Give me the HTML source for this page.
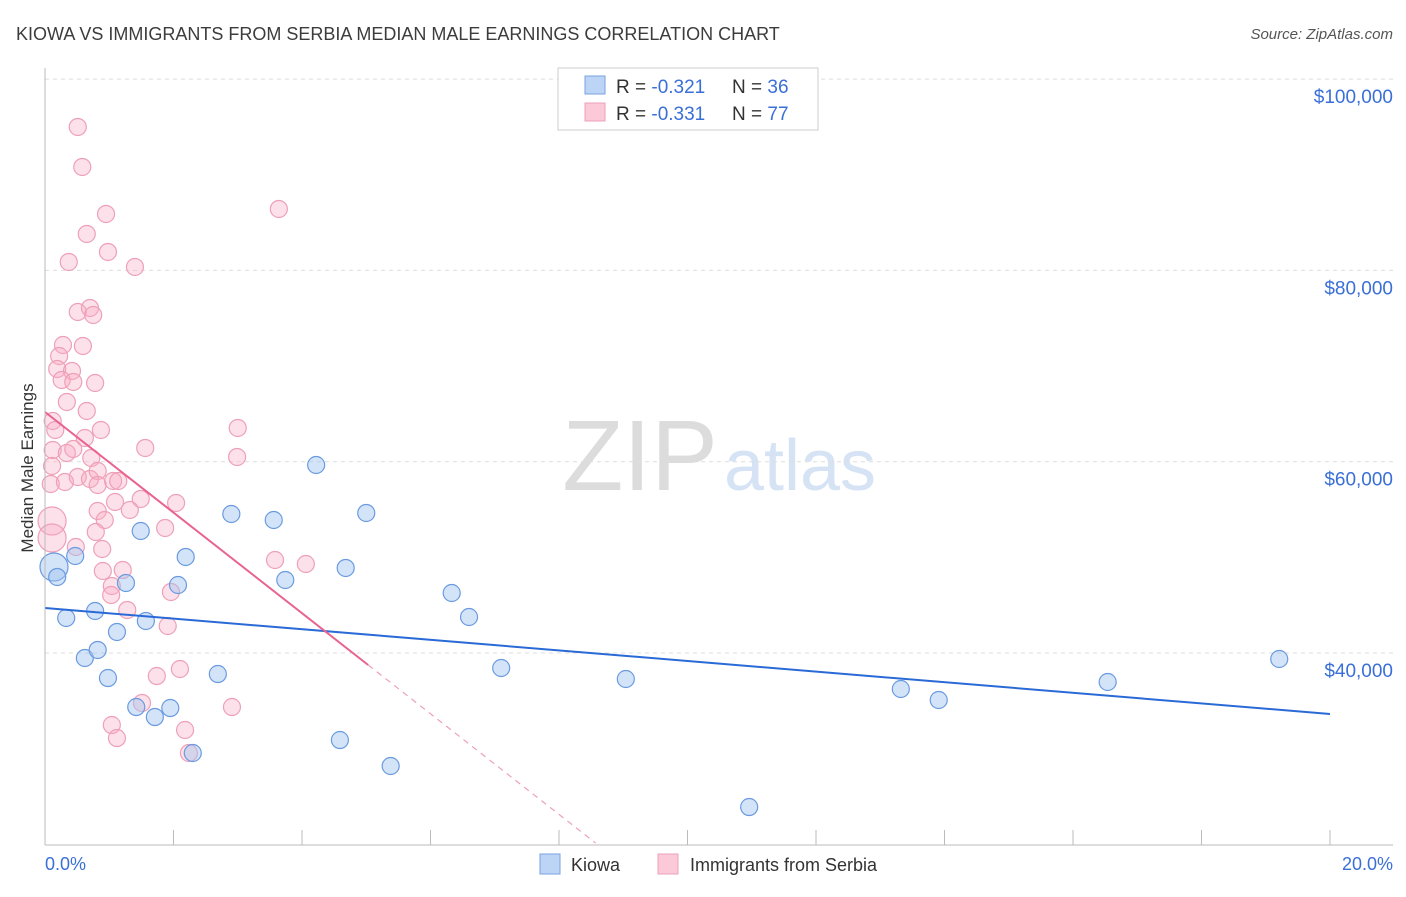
<!DOCTYPE html>
<html><head><meta charset="utf-8"><style>
body{margin:0;background:#fff;font-family:"Liberation Sans",sans-serif;}
svg text{font-family:"Liberation Sans",sans-serif;}
</style></head><body>
<svg id="chart" width="1406" height="892">
<text x="16" y="40" font-size="18" fill="#3c3c3c">KIOWA VS IMMIGRANTS FROM SERBIA MEDIAN MALE EARNINGS CORRELATION CHART</text>
<text x="1393" y="39" font-size="15" fill="#555" font-style="italic" text-anchor="end">Source: ZipAtlas.com</text>
<text x="640" y="490" font-size="100" fill="#dcdcdc" font-family="Liberation Serif" text-anchor="middle">ZIP</text>
<text x="800" y="490" font-size="72" fill="#d5e3f5" text-anchor="middle">atlas</text>
<g id="grid"></g><g id="pts"></g><g id="lines"></g>
<line x1="45" y1="68" x2="45" y2="845" stroke="#bbb"/>
<line x1="45" y1="845" x2="1393" y2="845" stroke="#bbb"/>
<text x="20" y="455" font-size="17" fill="#333" transform="rotate(-90 33 455)" text-anchor="middle">Median Male Earnings</text>
<text x="45" y="870" font-size="18" fill="#3a6fd8">0.0%</text>
<text x="1393" y="870" font-size="18" fill="#3a6fd8" text-anchor="end">20.0%</text>
<g>
<rect x="558" y="68" width="260" height="62" fill="#fff" stroke="#ccc"/>
<rect x="585" y="76" width="20" height="18" fill="#bcd4f5" stroke="#7aa3e0"/>
<rect x="585" y="103" width="20" height="18" fill="#fbc9d8" stroke="#eea0b8"/>
<text x="616" y="93" font-size="19" fill="#333">R = <tspan fill="#3a6fd8">-0.321</tspan></text>
<text x="732" y="93" font-size="19" fill="#333">N = <tspan fill="#3a6fd8">36</tspan></text>
<text x="616" y="120" font-size="19" fill="#333">R = <tspan fill="#3a6fd8">-0.331</tspan></text>
<text x="732" y="120" font-size="19" fill="#333">N = <tspan fill="#3a6fd8">77</tspan></text>
</g>
<g>
<rect x="540" y="854" width="20" height="20" fill="#bcd4f5" stroke="#7aa3e0"/>
<text x="571" y="871" font-size="18" fill="#333">Kiowa</text>
<rect x="658" y="854" width="20" height="20" fill="#fbc9d8" stroke="#eea0b8"/>
<text x="690" y="871" font-size="18" fill="#333">Immigrants from Serbia</text>
</g>
</svg>
<script>
const yTicks=[40000,60000,80000,100000];
const yTickLabels=["$40,000","$60,000","$80,000","$100,000"];
const xTicks=[0,2,4,6,8,10,12,14,16,18,20];
const kiowaX=[0.14,0.19,0.47,0.33,0.78,0.62,0.82,0.98,1.12,1.26,1.49,1.57,1.42,1.71,1.95,2.19,2.07,2.30,2.69,2.90,3.56,3.74,4.22,4.59,4.68,5.00,5.38,6.33,6.60,7.10,9.04,10.96,13.32,13.91,16.54,19.21];
const kiowaY=[48991,47946,50141,43659,44391,39477,40314,37386,42196,47319,52755,43346,34354,33308,34249,50037,47109,29545,37804,54532,53905,47632,59655,30904,48887,54637,28186,46273,43764,38432,37282,23899,36236,35086,36968,39373];
const serbiaX=[0.51,0.58,0.95,0.65,0.98,0.37,1.40,3.64,0.51,0.70,0.75,0.28,0.59,0.22,0.19,0.42,0.26,0.44,0.78,0.34,0.65,0.12,0.16,0.87,0.62,1.56,3.00,2.99,0.12,0.34,0.44,0.72,0.11,0.09,0.31,0.51,0.70,0.82,0.82,1.06,1.14,1.09,1.32,1.49,2.04,0.82,0.93,0.11,0.11,0.79,1.87,0.48,0.89,3.58,4.06,0.90,1.21,1.04,1.03,1.96,1.28,1.91,1.74,2.10,2.91,1.51,1.04,1.12,2.18,2.24];
const serbiaY=[94993,90811,85897,83806,81925,80879,80356,86420,75652,76070,75338,72201,72097,71051,69692,69483,68542,68333,68229,66242,65301,64256,63315,63315,62478,61433,63524,60492,61224,60910,61328,60387,59551,57669,57878,58401,58192,59028,57564,57983,57983,55787,54951,56101,55683,54846,53905,53801,52023,52651,53069,51082,50873,49723,49305,48573,48678,47005,46064,46378,44496,42823,37595,38327,34354,34773,32472,31113,31950,29545];
const kiowaTrend=[44705,33622];
const serbiaTrend=[65197,38746];
const serbiaSolidEnd=5.03, serbiaDashEnd=8.57;
const NS="http://www.w3.org/2000/svg";
const X=v=>45+v*64.25;
const Y=v=>653-(v-40000)*191.3/20000;
function mk(t,a,p){const e=document.createElementNS(NS,t);for(const k in a)e.setAttribute(k,a[k]);p.appendChild(e);return e;}
const grid=document.getElementById('grid');
yTicks.forEach((t,i)=>{
 const l=mk('line',{x1:45,x2:1393,y1:Y(t),y2:Y(t),stroke:'#ddd','stroke-dasharray':'4,4'},grid);
 
 
 const tx=mk('text',{x:1393,y:Y(t)+24,'font-size':19,fill:'#3a6fd8','text-anchor':'end'},grid);
 tx.textContent=yTickLabels[i];
 
 
});
xTicks.forEach(t=>{
 const l=mk('line',{x1:X(t),x2:X(t),y1:830,y2:845,stroke:'#bbb'},grid);
 
 
});
const pts=document.getElementById('pts');
function big(x,y){return x<0.2&&((y>51000&&y<55000)||(y>48500&&y<49500));}
serbiaX.forEach((x,i)=>{
 const c=mk('circle',{cx:X(x),cy:Y(serbiaY[i]),r:big(x,serbiaY[i])?14:8.5,fill:'rgba(248,170,195,0.35)',stroke:'#eea0b8','stroke-width':1.2},pts);
 
 
});
kiowaX.forEach((x,i)=>{
 const c=mk('circle',{cx:X(x),cy:Y(kiowaY[i]),r:big(x,kiowaY[i])?14:8.5,fill:'rgba(160,195,240,0.45)',stroke:'#6a9ae0','stroke-width':1.2},pts);
 
 
});
const lines=document.getElementById('lines');
const kl=mk('line',{x1:X(0),y1:Y(kiowaTrend[0]),x2:X(20),y2:Y(kiowaTrend[1]),stroke:'#2a6ad6','stroke-width':2},lines);


const slope=(serbiaTrend[1]-serbiaTrend[0])/serbiaSolidEnd;
const sl=mk('line',{x1:X(0),y1:Y(serbiaTrend[0]),x2:X(serbiaSolidEnd),y2:Y(serbiaTrend[1]),stroke:'#e8638f','stroke-width':2},lines);


const sd=mk('line',{x1:X(serbiaSolidEnd),y1:Y(serbiaTrend[1]),x2:X(serbiaDashEnd),y2:Y(serbiaTrend[0]+slope*serbiaDashEnd),stroke:'#eea0b8','stroke-width':1.2,'stroke-dasharray':'6,5'},lines);


</script>
</body></html>
